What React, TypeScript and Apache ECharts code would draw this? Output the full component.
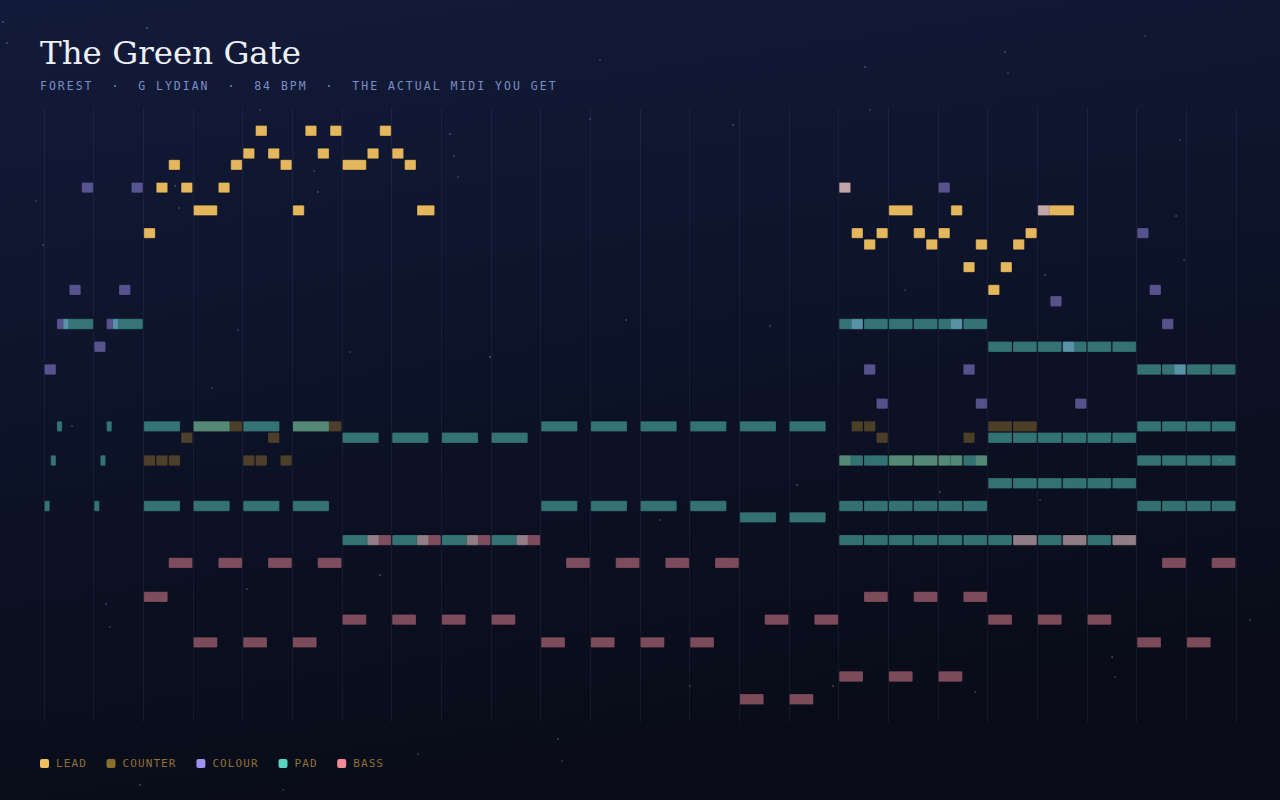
import React, { useEffect, useRef } from "react";
import * as echarts from "echarts";

// [start beat, length in beats, MIDI pitch]
type Note = [number, number, number];

const TITLE = "The Green Gate";
const SUBTITLE = "FOREST  ·  G LYDIAN  ·  84 BPM  ·  THE ACTUAL MIDI YOU GET";

const BEAT_COUNT = 24;
const PITCH_LOW = 36;
const PITCH_HIGH = 90;

const LEAD_NOTES: Note[] = [
  [2.0, 0.25, 79], [2.25, 0.25, 83], [2.5, 0.25, 85], [2.75, 0.25, 83], [3.0, 0.5, 81],
  [3.5, 0.25, 83], [3.75, 0.25, 85], [4.0, 0.25, 86], [4.25, 0.25, 88], [4.5, 0.25, 86],
  [4.75, 0.25, 85], [5.0, 0.25, 81], [5.25, 0.25, 88], [5.5, 0.25, 86], [5.75, 0.25, 88],
  [6.0, 0.5, 85], [6.5, 0.25, 86], [6.75, 0.25, 88], [7.0, 0.25, 86], [7.25, 0.25, 85],
  [7.5, 0.375, 81],
  [16.0, 0.25, 83], [16.25, 0.25, 79], [16.5, 0.25, 78], [16.75, 0.25, 79], [17.0, 0.5, 81],
  [17.5, 0.25, 79], [17.75, 0.25, 78], [18.0, 0.25, 79], [18.25, 0.25, 81], [18.5, 0.25, 76],
  [18.75, 0.25, 78], [19.0, 0.25, 74], [19.25, 0.25, 76], [19.5, 0.25, 78], [19.75, 0.25, 79],
  [20.0, 0.75, 81],
];

const COUNTER_NOTES: Note[] = [
  [2.0, 0.25, 59], [2.25, 0.25, 59], [2.5, 0.25, 59], [2.75, 0.25, 61], [3.0, 1.0, 62],
  [4.0, 0.25, 59], [4.25, 0.25, 59], [4.5, 0.25, 61], [4.75, 0.25, 59], [5.0, 1.0, 62],
  [16.0, 0.25, 59], [16.25, 0.25, 62], [16.5, 0.25, 62], [16.75, 0.25, 61], [17.0, 0.5, 59],
  [17.5, 0.5, 59], [18.0, 0.25, 59], [18.25, 0.25, 59], [18.5, 0.25, 61], [18.75, 0.25, 59],
  [19.0, 0.5, 62], [19.5, 0.5, 62],
];

const COLOUR_NOTES: Note[] = [
  [0.0, 0.25, 67], [0.25, 0.25, 71], [0.5, 0.25, 74], [0.75, 0.25, 83],
  [1.0, 0.25, 69], [1.25, 0.25, 71], [1.5, 0.25, 74], [1.75, 0.25, 83],
  [16.0, 0.25, 83], [16.25, 0.25, 71], [16.5, 0.25, 67], [16.75, 0.25, 64],
  [18.0, 0.25, 83], [18.25, 0.25, 71], [18.5, 0.25, 67], [18.75, 0.25, 64],
  [20.0, 0.25, 81], [20.25, 0.25, 73], [20.5, 0.25, 69], [20.75, 0.25, 64],
  [22.0, 0.25, 79], [22.25, 0.25, 74], [22.5, 0.25, 71], [22.75, 0.25, 67],
];

const PAD_NOTES: Note[] = [
  [0.0, 0.125, 55], [0.125, 0.125, 59], [0.25, 0.125, 62], [0.375, 0.625, 71],
  [1.0, 0.125, 55], [1.125, 0.125, 59], [1.25, 0.125, 62], [1.375, 0.625, 71],
  [2, 0.75, 62], [2, 0.75, 55], [3, 0.75, 62], [3, 0.75, 55],
  [4, 0.75, 62], [4, 0.75, 55], [5, 0.75, 62], [5, 0.75, 55],
  [6, 0.75, 61], [6, 0.75, 52], [7, 0.75, 61], [7, 0.75, 52],
  [8, 0.75, 61], [8, 0.75, 52], [9, 0.75, 61], [9, 0.75, 52],
  [10, 0.75, 62], [10, 0.75, 55], [11, 0.75, 62], [11, 0.75, 55],
  [12, 0.75, 62], [12, 0.75, 55], [13, 0.75, 62], [13, 0.75, 55],
  [14, 0.75, 62], [14, 0.75, 54], [15, 0.75, 62], [15, 0.75, 54],
  [16, 0.5, 71], [16.5, 0.5, 71], [17, 0.5, 71], [17.5, 0.5, 71], [18, 0.5, 71], [18.5, 0.5, 71],
  [16, 0.5, 59], [16.5, 0.5, 59], [17, 0.5, 59], [17.5, 0.5, 59], [18, 0.5, 59], [18.5, 0.5, 59],
  [16, 0.5, 55], [16.5, 0.5, 55], [17, 0.5, 55], [17.5, 0.5, 55], [18, 0.5, 55], [18.5, 0.5, 55],
  [16, 0.5, 52], [16.5, 0.5, 52], [17, 0.5, 52], [17.5, 0.5, 52], [18, 0.5, 52], [18.5, 0.5, 52],
  [19, 0.5, 69], [19.5, 0.5, 69], [20, 0.5, 69], [20.5, 0.5, 69], [21, 0.5, 69], [21.5, 0.5, 69],
  [19, 0.5, 61], [19.5, 0.5, 61], [20, 0.5, 61], [20.5, 0.5, 61], [21, 0.5, 61], [21.5, 0.5, 61],
  [19, 0.5, 57], [19.5, 0.5, 57], [20, 0.5, 57], [20.5, 0.5, 57], [21, 0.5, 57], [21.5, 0.5, 57],
  [19, 0.5, 52], [19.5, 0.5, 52], [20, 0.5, 52], [20.5, 0.5, 52], [21, 0.5, 52], [21.5, 0.5, 52],
  [22, 0.5, 67], [22.5, 0.5, 67], [23, 0.5, 67], [23.5, 0.5, 67],
  [22, 0.5, 62], [22.5, 0.5, 62], [23, 0.5, 62], [23.5, 0.5, 62],
  [22, 0.5, 59], [22.5, 0.5, 59], [23, 0.5, 59], [23.5, 0.5, 59],
  [22, 0.5, 55], [22.5, 0.5, 55], [23, 0.5, 55], [23.5, 0.5, 55],
];

const BASS_NOTES: Note[] = [
  [2.0, 0.5, 47], [2.5, 0.5, 50], [3.0, 0.5, 43], [3.5, 0.5, 50],
  [4.0, 0.5, 43], [4.5, 0.5, 50], [5.0, 0.5, 43], [5.5, 0.5, 50],
  [6.0, 0.5, 45], [6.5, 0.5, 52], [7.0, 0.5, 45], [7.5, 0.5, 52],
  [8.0, 0.5, 45], [8.5, 0.5, 52], [9.0, 0.5, 45], [9.5, 0.5, 52],
  [10.0, 0.5, 43], [10.5, 0.5, 50], [11.0, 0.5, 43], [11.5, 0.5, 50],
  [12.0, 0.5, 43], [12.5, 0.5, 50], [13.0, 0.5, 43], [13.5, 0.5, 50],
  [14.0, 0.5, 38], [14.5, 0.5, 45], [15.0, 0.5, 38], [15.5, 0.5, 45],
  [16.0, 0.5, 40], [16.5, 0.5, 47], [17.0, 0.5, 40], [17.5, 0.5, 47],
  [18.0, 0.5, 40], [18.5, 0.5, 47],
  [19.0, 0.5, 45], [19.5, 0.5, 52], [20.0, 0.5, 45], [20.5, 0.5, 52],
  [21.0, 0.5, 45], [21.5, 0.5, 52],
  [22.0, 0.5, 43], [22.5, 0.5, 50], [23.0, 0.5, 43], [23.5, 0.5, 50],
];

const TRACK_NAMES = ["LEAD", "COUNTER", "COLOUR", "PAD", "BASS"];
const TRACK_NOTES = [LEAD_NOTES, COUNTER_NOTES, COLOUR_NOTES, PAD_NOTES, BASS_NOTES];
const TRACK_COLORS = ["#f0c060", "#8c6e2d", "#9d92f2", "#5cd3c3", "#f08a9a"];
const TRACK_OPACITY = [0.95, 0.5, 0.5, 0.5, 0.5];

// decorative star field [x, y, radius]
const STARS: [number, number, number][] = [
  [147, 28, 1.2], [3, 22, 1.1], [7, 43, 1], [450, 134, 1.1], [454, 156, 0.9], [458, 177, 0.8],
  [318, 192, 1], [314, 171, 0.8], [175, 186, 1], [179, 208, 0.8], [36, 201, 0.8], [43, 245, 0.8],
  [590, 119, 0.8], [1005, 52, 1], [865, 67, 1], [1008, 73, 0.8], [1145, 36, 0.8], [733, 125, 1],
  [870, 110, 0.8], [1176, 216, 1], [1184, 260, 0.8], [1045, 275, 1], [626, 320, 1], [770, 326, 1],
  [490, 357, 1.1], [1250, 620, 0.8], [1112, 657, 1], [1115, 677, 0.8], [833, 686, 1], [558, 739, 1],
  [562, 761, 0.8], [418, 754, 0.8], [140, 785, 1], [283, 790, 0.8], [975, 692, 0.8], [690, 686, 0.8],
  [106, 604, 1], [110, 627, 0.8], [1220, 460, 0.8], [660, 520, 0.8], [797, 485, 1], [940, 492, 1],
  [905, 290, 0.8], [380, 575, 1], [247, 589, 0.8], [350, 352, 0.8], [212, 388, 0.8], [72, 426, 0.8],
  [238, 330, 0.8], [1040, 500, 0.8], [1180, 140, 0.8], [600, 60, 0.8], [260, 110, 0.8],
];

const GRID_LEFT = 44;
const GRID_RIGHT = 44;
const GRID_TOP = 108;
const GRID_BOTTOM = 78;

function makeRender(color: string, opacity: number) {
  return (_params: any, api: any) => {
    const s = api.value(0);
    const d = api.value(1);
    const p = api.value(2);
    const a = api.coord([s, p + 0.5]);
    const b = api.coord([s + d, p - 0.5]);
    return {
      type: "rect",
      shape: {
        x: a[0] + 0.5,
        y: a[1] + 0.5,
        width: Math.max(1, b[0] - a[0] - 1),
        height: b[1] - a[1] - 1,
        r: 1,
      },
      style: {
        fill: color,
        opacity,
        stroke: "rgba(6,8,20,0.3)",
        lineWidth: 1,
      },
    };
  };
}

function buildGraphic() {
  const els: any[] = [];
  STARS.forEach(([x, y, r]) => {
    els.push({
      type: "circle",
      silent: true,
      shape: { cx: x, cy: y, r },
      style: { fill: "rgba(150,165,210,0.35)" },
    });
  });
  els.push({
    type: "text",
    x: 40,
    y: 53,
    style: {
      text: TITLE,
      font: "32.5px 'DejaVu Serif'",
      fill: "#eef0f8",
      align: "left",
      verticalAlign: "middle",
    },
  });
  els.push({
    type: "text",
    x: 40,
    y: 86,
    style: {
      text: SUBTITLE,
      font: "11.5px 'DejaVu Sans Mono'",
      fill: "#7b8ec4",
      align: "left",
      verticalAlign: "middle",
    },
  });
  let sx = 40;
  TRACK_NAMES.forEach((name, i) => {
    els.push({
      type: "rect",
      shape: { x: sx, y: 759, width: 9, height: 9, r: 2 },
      style: { fill: TRACK_COLORS[i] },
    });
    const tx = sx + 16;
    els.push({
      type: "text",
      x: tx,
      y: 763.5,
      style: {
        text: name,
        font: "11px 'DejaVu Sans Mono'",
        fill: "#8f7036",
        align: "left",
        verticalAlign: "middle",
      },
    });
    sx = tx + name.length * 7.8 + 19.3;
  });
  return els;
}

export default function App() {
  const ref = useRef<HTMLDivElement>(null);
  useEffect(() => {
    if (!ref.current) return;
    const chart = echarts.init(ref.current, undefined, { renderer: "svg" });
    chart.setOption({
      animation: false,
      backgroundColor: {
        type: "linear",
        x: 0,
        y: 0,
        x2: 0.25,
        y2: 1,
        colorStops: [
          { offset: 0, color: "#131b3a" },
          { offset: 0.5, color: "#0d1329" },
          { offset: 1, color: "#090c18" },
        ],
      },
      grid: { left: GRID_LEFT, right: GRID_RIGHT, top: GRID_TOP, bottom: GRID_BOTTOM },
      xAxis: {
        type: "value",
        min: 0,
        max: BEAT_COUNT,
        interval: 1,
        axisLine: { show: false },
        axisTick: { show: false },
        axisLabel: { show: false },
        splitLine: { show: true, lineStyle: { color: "rgba(150,165,220,0.08)", width: 1 } },
      },
      yAxis: {
        type: "value",
        min: PITCH_LOW,
        max: PITCH_HIGH,
        show: false,
        splitLine: { show: false },
      },
      graphic: buildGraphic(),
      series: TRACK_NAMES.map((name, i) => ({
        name,
        type: "custom",
        silent: true,
        clip: false,
        dimensions: ["start", "len", "pitch"],
        encode: { x: 0, y: 2 },
        renderItem: makeRender(TRACK_COLORS[i], TRACK_OPACITY[i]),
        data: TRACK_NOTES[i],
      })),
    });
    return () => chart.dispose();
  }, []);
  return (
    <>
      <style>{`
        .pr text[style*="11.5px"] { letter-spacing: 2.0px; }
        .pr text[style*="11px"] { letter-spacing: 1.1px; }
      `}</style>
      <div
        ref={ref}
        className="pr"
        style={{ position: "fixed", left: 0, top: 0, width: 1280, height: 800 }}
      />
    </>
  );
}
